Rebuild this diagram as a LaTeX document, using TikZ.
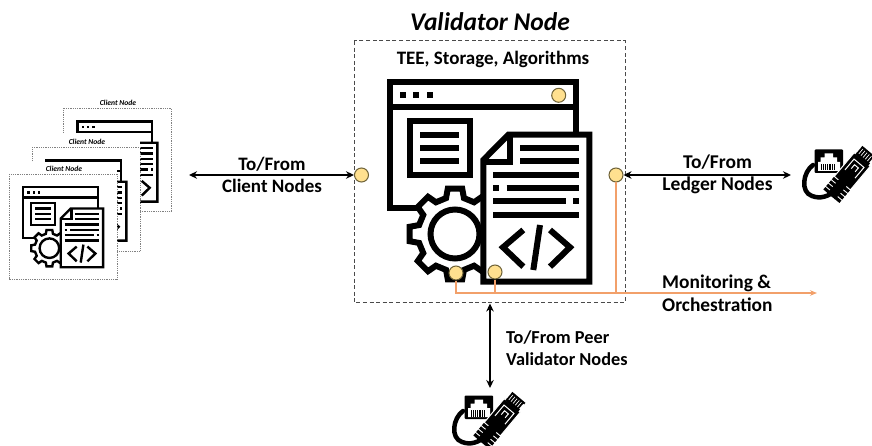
\documentclass[tikz,border=0pt]{standalone}
\usepackage{fontspec}
\setmainfont{Carlito}
\usetikzlibrary{arrows.meta,calc}
\definecolor{portfill}{HTML}{FFE08F}
\definecolor{portedge}{HTML}{6E6238}
\definecolor{orangeline}{HTML}{F2A06A}
\definecolor{orangetip}{HTML}{ED7D31}
\definecolor{framegray}{HTML}{4A4A4A}
\tikzset{
  x=1pt,y=-1pt,
  port/.style={circle,draw=portedge,fill=portfill,line width=1pt,minimum size=14pt,inner sep=0pt},
  biarrow/.style={line width=2pt,black,{Stealth[length=8pt,width=7.5pt]}-{Stealth[length=8pt,width=7.5pt]}},
  feed/.style={line width=1.2pt,draw=orangeline},
  lbl/.style={font=\fontsize{19}{22}\selectfont\bfseries,align=center,inner sep=0pt},
  lblleft/.style={lbl,align=left,anchor=west},
  clientframe/.style={draw=gray,densely dotted,line width=.8pt,fill=white},
  clientlbl/.style={font=\fontsize{7.6}{9}\selectfont\bfseries\itshape,inner sep=0pt},
}
% main icon, drawn in picture pixels; #1 = stroke width
\newcommand{\appicon}[1]{%
  \begin{scope}[line width=#1pt,line join=miter]
    \draw (576,134) -- (576,81.7) -- (389.7,81.7) -- (389.7,208) -- (418,208);
    \draw (389.7,107.3) -- (576,107.3);
    \foreach \xa in {400,413.3,426.6}{\fill (\xa,92) rectangle +(6,6);}
    \draw (409.7,121.3) rectangle (469.7,175.3);
    \foreach \ya in {134.7,148,161.3}{\draw (420,\ya) -- (459,\ya);}
    % gear
    \draw[fill=white] ($(455,234)+(-14:37)$)
      \foreach \ang in {0,45,...,315}{
        -- ($(455,234)+(\ang-14:37)$) -- ($(455,234)+(\ang-9:46)$) -- ($(455,234)+(\ang+9:46)$) -- ($(455,234)+(\ang+14:37)$)
      } -- cycle;
    \draw (455,234) circle (24.5);
    % document
    \draw[fill=white] (508.3,134.7) -- (589.3,134.7) -- (589.3,281.7) -- (483.3,281.7) -- (483.3,160) -- cycle;
    \draw (510,134.7) -- (510,161.7) -- (483.3,161.7);
    \foreach \ya in {148,161.3}{\draw (520,\ya) -- (579.3,\ya);}
    \draw (493.3,174.7) -- (579.3,174.7);
    \draw (493.3,188) -- (499.3,188);
    \draw (506.7,188) -- (579.3,188);
    \draw (493.3,201.3) -- (566,201.3);
    \draw (573.3,201.3) -- (579.3,201.3);
    \draw (493.3,214.7) -- (579.3,214.7);
    \draw (523.3,230) -- (503,247.3) -- (523.3,266.7);
    \draw (540,225) -- (533.3,270);
    \draw (550,230) -- (570,247.3) -- (550,266.7);
  \end{scope}}
% network icon, drawn at the position of the right one
\newcommand{\neticon}{%
  \draw[line width=4.5pt,line cap=round] (813,165) .. controls (803,172) and (800,192) .. (812,196) .. controls (820,199) and (828,197) .. (836,190);
  \fill[rounded corners=1pt] (814.5,149.5) rectangle (843,173);
  \fill[white] (818,171) -- (818,162) -- (820.5,162) -- (820.5,157.5) -- (824.5,157.5) -- (824.5,153.5) -- (833,153.5) -- (833,157.5) -- (837,157.5) -- (837,162) -- (840,162) -- (840,171) -- cycle;
  \foreach \xa in {820.5,822.7,824.9,827.1,829.3,831.5,833.7}{\fill (\xa,164) rectangle +(1.3,6.5);}
  \begin{scope}[shift={(850,174)},rotate=50]
    \draw[white,line width=1pt,fill=black] (-12,-10.5) rectangle (19,10.5);
    \foreach \ua in {-29,-24.6,-20.2,-15.8}{\fill (\ua,-10.5) rectangle +(3.2,21);}
    \fill (-29,-5) rectangle (-10,5);
    \draw[white,line width=1pt] (0,-6.5) -- (14,-6.5) -- (14,6.5) -- (0,6.5);
    \draw[white,line width=1pt] (5,-2.5) -- (10,-2.5) -- (10,2.5) -- (5,2.5);
    \fill (18,-8.5) rectangle (21,8.5);
    \foreach \va in {-8.5,-5.7,-2.9,-0.1,2.7,5.5}{\fill (20,\va) rectangle +(9,1.8);}
    \fill (27.5,-8.5) rectangle (29.5,8.5);
  \end{scope}}
\begin{document}
\begin{tikzpicture}
\useasboundingbox (0,0) rectangle (872,446);
\fill[white] (0,0) rectangle (872,446);

% client stack
\draw[clientframe] (63.3,108.3) rectangle (171.3,211.7);
\begin{scope}[shift={(-78.3,88.9)},scale=.4]\appicon{2.4}\end{scope}
\node[clientlbl] (c3) at (118,102.7) {Client Node};
\fill[white] (32.3,133) rectangle (140,147.3);
\draw[clientframe] (32.3,147.3) rectangle (140,251.3);
\begin{scope}[shift={(-109.3,127.9)},scale=.4]\appicon{2.4}\end{scope}
\fill[white] (9,162) rectangle (117,174);
\node[clientlbl] (c2) at (87,141.7) {Client Node};
\draw[clientframe] (9,174) rectangle (117,279);
\begin{scope}[shift={(-132.6,154.6)},scale=.4]\appicon{2.4}\end{scope}
\node[clientlbl] (c1) at (64,169) {Client Node};

% validator
\node[font=\fontsize{25.5}{28}\selectfont\bfseries\itshape,inner sep=0pt] (title) at (490,22) {Validator Node};
\draw[framegray,dash pattern=on 4pt off 2.6pt,line width=1pt] (354,41) rectangle (625,302.7);
\coordinate (framebottom) at (490,303.5);
\node[lbl] (sub) at (493,59) {TEE, Storage, Algorithms};
\appicon{6}

% monitoring feed
\coordinate (feedend) at (817,293);
\node[port] (pgear) at (456,273) {};
\node[port] (pdoc) at (495,272) {};
\node[port] (pright) at (616,175) {};
\node[port] (pleft) at (361.5,175) {};
\node[port] (ptop) at (558.7,95.3) {};
\draw[feed] (pdoc.south) -- (pdoc.south |- feedend);
\draw[feed] (pright.south) -- (pright.south |- feedend);
\draw[feed,-{Stealth[length=7pt,width=5.5pt,fill=orangetip]}] (pgear.south) |- (feedend);

% arrows
\coordinate (clientend) at (189,175);
\coordinate (ledgerend) at (791,175);
\coordinate (peerend) at (490,388);
\draw[biarrow] (clientend) -- (pleft.west);
\draw[biarrow] (pright.east) -- (ledgerend);
\draw[biarrow] (framebottom) -- (peerend);

% labels
\node[lbl] (l1) at (272,175) {To/From\\[0pt]Client Nodes};
\node[lbl,font=\fontsize{19.5}{22}\selectfont\bfseries] (l2) at (717.5,174.5) {To/From\\[0pt]Ledger Nodes};
\node[lblleft,font=\fontsize{18.3}{21.5}\selectfont\bfseries] (l3) at (506,348) {To/From Peer\\[0pt]Validator Nodes};
\node[lblleft,font=\fontsize{19.4}{22.5}\selectfont\bfseries] (l4) at (662,293.5) {Monitoring \&\\[0pt]Orchestration};

% network icons
\neticon
\begin{scope}[shift={(-350,246)}]\neticon\end{scope}
\end{tikzpicture}
\end{document}
